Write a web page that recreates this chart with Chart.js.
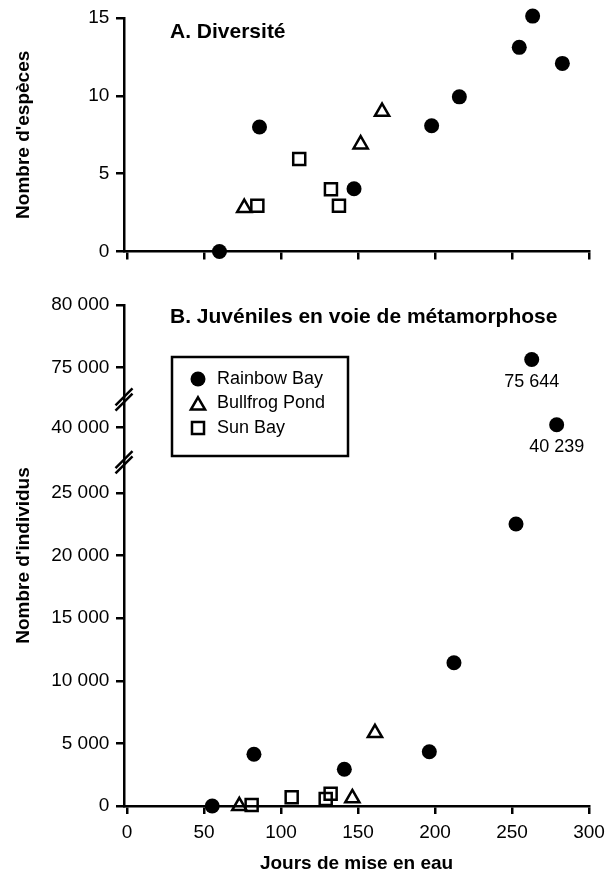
<!DOCTYPE html>
<html>
<head>
<meta charset="utf-8">
<script src="https://cdn.jsdelivr.net/npm/chart.js@4.4.1/dist/chart.umd.min.js"></script>
<style>
  html, body { margin: 0; padding: 0; background: #ffffff; }
  #wrap { position: relative; width: 613px; height: 880px; }
  canvas { position: absolute; left: 0; }
  #chartA { top: 0; }
  #chartB { top: 275px; }
</style>
</head>
<body>
<div id="wrap">
  <canvas id="chartA" width="613" height="275"></canvas>
  <canvas id="chartB" width="613" height="605"></canvas>
</div>
<script>
// ---------------- DATA ----------------
const seriesNames = ['Rainbow Bay', 'Bullfrog Pond', 'Sun Bay'];

// Panel A : diversity (number of species)
const divRainbowDays    = [60, 86, 147.4, 197.8, 215.8, 254.7, 263.4, 282.7];
const divRainbowSpecies = [0, 8.0, 4.03, 8.08, 9.94, 13.12, 15.13, 12.09];
const divBullfrogDays    = [76.1, 151.7, 165.6];
const divBullfrogSpecies = [2.81, 6.89, 8.98];
const divSunDays    = [84.6, 111.8, 132.4, 137.6];
const divSunSpecies = [2.94, 5.94, 4.0, 2.94];

// Panel B : juveniles undergoing metamorphosis (number of individuals)
const juvRainbowDays  = [55.3, 82.4, 141.1, 196.3, 212.3, 252.6, 262.8, 279.0];
const juvRainbowCount = [0, 4128, 2930, 4335, 11440, 22515, 75644, 40239];
const juvBullfrogDays  = [72.9, 146.3, 161.0];
const juvBullfrogCount = [0, 623, 5828];
const juvSunDays  = [80.9, 106.9, 129.0, 132.2];
const juvSunCount = [80, 695, 559, 982];

// Axis ticks
const xTicks  = [0, 50, 100, 150, 200, 250, 300];
const yTicksA = [0, 5, 10, 15];
const yTicksB = [0, 5000, 10000, 15000, 20000, 25000, 40000, 75000, 80000];
// Axis breaks lie between these tick values
const breakPairs = [[25000, 40000], [40000, 75000]];
// values above this are annotated with their number
const labelThreshold = 30000;

// ---------------- HELPERS ----------------
const FONT = '"Liberation Sans", Arial, Helvetica, sans-serif';
Chart.defaults.font.family = FONT;
Chart.defaults.color = '#000';

function zip(xs, ys) { return xs.map((x, i) => ({ x: x, y: ys[i] })); }
function fmtNum(v) { return String(v).replace(/\B(?=(\d{3})+(?!\d))/g, ' '); }

// broken (piece-wise) linear scale for panel B
function toVirtual(v) {
  if (v >= 60000) return v - 40000;
  if (v >= 32000) return v - 9800;
  return v;
}
function fromVirtual(v) {
  if (v >= 32500) return v + 40000;
  if (v >= 27000) return v + 9800;
  return v;
}
const LinearBase = Chart.LinearScale || Chart.registry.getScale('linear');
class BrokenLinearScale extends LinearBase {
  getPixelForValue(value) {
    return super.getPixelForValue(value === null || value === undefined ? value : toVirtual(value));
  }
  getValueForPixel(pixel) {
    return fromVirtual(super.getValueForPixel(pixel));
  }
}
BrokenLinearScale.id = 'brokenLinear';
BrokenLinearScale.defaults = LinearBase.defaults;
Chart.register(BrokenLinearScale);

const styles = [
  { pointStyle: 'circle',   pointRadius: 7.5, backgroundColor: '#000', borderColor: '#000', borderWidth: 0 },
  { pointStyle: 'triangle', pointRadius: 8.2, backgroundColor: 'rgba(255,255,255,0)', borderColor: '#000', borderWidth: 2.5 },
  { pointStyle: 'rect',     pointRadius: 8.5, backgroundColor: 'rgba(255,255,255,0)', borderColor: '#000', borderWidth: 2.5 }
];
function makeDataset(i, data) {
  const s = styles[i];
  return {
    label: seriesNames[i], data: data,
    pointStyle: s.pointStyle, pointRadius: s.pointRadius,
    backgroundColor: s.backgroundColor, borderColor: s.borderColor,
    borderWidth: s.borderWidth, pointBorderWidth: s.borderWidth,
    pointBackgroundColor: s.backgroundColor, pointBorderColor: s.borderColor,
    showLine: false, clip: false
  };
}

const axisGrid = { display: true, drawOnChartArea: false, drawTicks: true, tickLength: 8, color: '#000', lineWidth: 2.5 };
const axisBorder = { display: true, color: '#000', width: 2.5 };

function xAxis(showLabels, fixedHeight) {
  return {
    type: 'linear', min: -2, max: 300,
    grid: axisGrid, border: axisBorder,
    ticks: { display: showLabels, autoSkip: false, maxRotation: 0, padding: 7, font: { size: 19 } },
    afterBuildTicks: s => { s.ticks = xTicks.map(v => ({ value: v })); },
    afterFit: s => { s.height = fixedHeight; },
    title: showLabels ? { display: true, text: 'Jours de mise en eau', font: { size: 19, weight: 'bold' }, padding: { top: 0, bottom: 4.6 } } : { display: false }
  };
}

const titlePlugin = {
  id: 'panelTitle',
  afterDraw(chart) {
    const t = chart.options.plugins.panelTitle;
    if (!t) return;
    const ctx = chart.ctx;
    ctx.save();
    ctx.font = 'bold 21px ' + FONT;
    ctx.fillStyle = '#000';
    ctx.textAlign = 'left';
    ctx.textBaseline = 'middle';
    ctx.fillText(t.text, t.x, t.y);
    ctx.restore();
  }
};

// ---------------- CHART A ----------------
new Chart(document.getElementById('chartA'), {
  type: 'scatter',
  data: {
    datasets: [
      makeDataset(0, zip(divRainbowDays, divRainbowSpecies)),
      makeDataset(1, zip(divBullfrogDays, divBullfrogSpecies)),
      makeDataset(2, zip(divSunDays, divSunSpecies))
    ]
  },
  options: {
    responsive: false, animation: false, events: [], devicePixelRatio: 1,
    layout: { padding: { top: 18, right: 24, bottom: 0, left: 0 } },
    plugins: {
      legend: { display: false }, tooltip: { enabled: false },
      panelTitle: { text: 'A. Diversité', x: 170, y: 32 }
    },
    scales: {
      x: xAxis(false, 23.5),
      y: {
        type: 'linear', min: 0, max: 15,
        grid: axisGrid, border: axisBorder,
        ticks: { stepSize: 5, padding: 6.7, font: { size: 19 } },
        afterBuildTicks: s => { s.ticks = yTicksA.map(v => ({ value: v })); },
        afterFit: s => { s.width = 124; },
        title: { display: true, text: "Nombre d'espèces", font: { size: 19, weight: 'bold' }, padding: { top: 12.6, bottom: 0 } }
      }
    }
  },
  plugins: [titlePlugin]
});

// ---------------- CHART B ----------------
const breakPlugin = {
  id: 'axisBreaks',
  afterDraw(chart) {
    const s = chart.scales.y;
    const ax = chart.chartArea.left;
    const ctx = chart.ctx;
    ctx.save();
    ctx.strokeStyle = '#000';
    ctx.lineWidth = 2.5;
    breakPairs.forEach(([a, b]) => {
      const pa = s.getPixelForValue(a), pb = s.getPixelForValue(b);
      const yc = pa + (pb - pa) * 0.47;
      [-2.6, 2.6].forEach(off => {
        ctx.beginPath();
        ctx.moveTo(ax - 8.5, yc + off + 8.5);
        ctx.lineTo(ax + 8.5, yc + off - 8.5);
        ctx.stroke();
      });
    });
    ctx.restore();
  }
};

const valueLabelPlugin = {
  id: 'valueLabels',
  afterDatasetsDraw(chart) {
    const ctx = chart.ctx;
    const meta = chart.getDatasetMeta(0);
    ctx.save();
    ctx.font = '18px ' + FONT;
    ctx.fillStyle = '#000';
    ctx.textAlign = 'center';
    ctx.textBaseline = 'middle';
    meta.data.forEach((pt, i) => {
      const v = juvRainbowCount[i];
      if (v > labelThreshold) ctx.fillText(fmtNum(v), pt.x, pt.y + 22.5);
    });
    ctx.restore();
  }
};

const boxLegendPlugin = {
  id: 'boxLegend',
  afterDraw(chart) {
    const L = chart.options.plugins.boxLegend;
    const ctx = chart.ctx;
    ctx.save();
    ctx.lineWidth = 2.5;
    ctx.strokeStyle = '#000';
    ctx.strokeRect(L.x, L.y, L.w, L.h);
    chart.data.datasets.forEach((ds, i) => {
      const yRow = L.y + L.firstRow + i * L.rowGap;
      ctx.fillStyle = ds.backgroundColor;
      ctx.strokeStyle = ds.borderColor;
      ctx.lineWidth = ds.borderWidth;
      const yMark = ds.pointStyle === 'triangle' ? yRow + 2 : yRow;
      Chart.helpers.drawPoint(ctx, { pointStyle: ds.pointStyle, radius: ds.pointRadius, rotation: 0, borderWidth: ds.borderWidth }, L.markerX, yMark);
      ctx.fillStyle = '#000';
      ctx.font = '18px ' + FONT;
      ctx.textAlign = 'left';
      ctx.textBaseline = 'middle';
      ctx.fillText(ds.label, L.textX, yRow);
    });
    ctx.restore();
  }
};

new Chart(document.getElementById('chartB'), {
  type: 'scatter',
  data: {
    datasets: [
      makeDataset(0, zip(juvRainbowDays, juvRainbowCount)),
      makeDataset(1, zip(juvBullfrogDays, juvBullfrogCount)),
      makeDataset(2, zip(juvSunDays, juvSunCount))
    ]
  },
  options: {
    responsive: false, animation: false, events: [], devicePixelRatio: 1,
    layout: { padding: { top: 30, right: 24, bottom: 0, left: 0 } },
    plugins: {
      legend: { display: false }, tooltip: { enabled: false },
      panelTitle: { text: 'B. Juvéniles en voie de métamorphose', x: 170, y: 42 },
      boxLegend: { x: 172, y: 82, w: 176, h: 99, firstRow: 22, rowGap: 24.5, markerX: 198, textX: 217 }
    },
    scales: {
      x: xAxis(true, 74),
      y: {
        type: 'brokenLinear', min: 0, max: 40000,
        grid: axisGrid, border: axisBorder,
        ticks: { autoSkip: false, padding: 6.7, font: { size: 19 }, callback: v => fmtNum(v) },
        afterBuildTicks: s => { s.ticks = yTicksB.map(v => ({ value: v })); },
        afterFit: s => { s.width = 124; },
        title: { display: true, text: "Nombre d'individus", font: { size: 19, weight: 'bold' }, padding: { top: 12.6, bottom: 0 } }
      }
    }
  },
  plugins: [titlePlugin, breakPlugin, valueLabelPlugin, boxLegendPlugin]
});
</script>
</body>
</html>
